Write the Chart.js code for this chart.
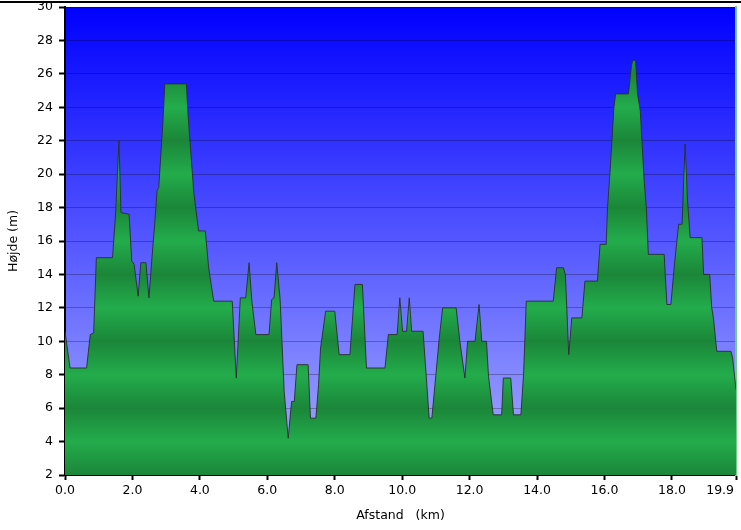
<!DOCTYPE html>
<html lang="da">
<head>
  <meta charset="UTF-8" />
  <title>Højdeprofil</title>
  <script src="https://cdn.jsdelivr.net/npm/chart.js"></script>
  <style>
    body {
      margin: 0;
      background: #fff;
    }
    .wrap {
      position: relative;
      width: 741px;
      height: 530px;
    }
    .topline {
      position: absolute;
      left: 0;
      top: 1px;
      width: 741px;
      height: 2px;
      background: #000;
    }
  </style>
</head>
<body>
  <div class="wrap">
    <canvas id="profileChart" width="741" height="530"></canvas>
    <div class="topline"></div>
  </div>

  <script>
    // afstand (km) og højde (m) aflæst fra profilen
    const distKm = [
      0.00, 0.15, 0.64, 0.75, 0.85, 0.93, 1.41, 1.50, 1.60, 1.66,
      1.90, 1.98, 2.05, 2.17, 2.25, 2.40, 2.49, 2.58, 2.66, 2.73,
      2.78, 2.90, 2.96, 3.60, 3.65, 3.82, 3.96, 4.16, 4.26, 4.41,
      4.96, 5.08, 5.20, 5.36, 5.46, 5.54, 5.66, 6.05, 6.13, 6.20,
      6.28, 6.38, 6.50, 6.62, 6.72, 6.80, 6.88, 7.21, 7.28, 7.44,
      7.52, 7.58, 7.73, 8.00, 8.13, 8.45, 8.60, 8.82, 8.94, 9.49,
      9.59, 9.85, 9.93, 10.01, 10.13, 10.21, 10.28, 10.62, 10.80, 10.88,
      11.00, 11.10, 11.20, 11.60, 11.71, 11.86, 11.94, 12.16, 12.28, 12.36,
      12.50, 12.56, 12.70, 12.95, 13.00, 13.22, 13.30, 13.52, 13.60, 13.68,
      14.48, 14.58, 14.78, 14.84, 14.94, 15.03, 15.33, 15.42, 15.79, 15.87,
      16.05, 16.09, 16.16, 16.22, 16.28, 16.33, 16.71, 16.80, 16.84, 16.92,
      16.98, 17.06, 17.18, 17.24, 17.30, 17.77, 17.85, 17.97, 18.07, 18.20,
      18.30, 18.39, 18.46, 18.54, 18.89, 18.94, 19.12, 19.18, 19.23, 19.33,
      19.75, 19.80, 19.90
    ];
    const heightM = [
      10.6, 8.4, 8.4, 10.4, 10.5, 15.0, 15.0, 17.6, 22.0, 17.7,
      17.6, 14.8, 14.6, 12.7, 14.7, 14.7, 12.6, 15.0, 17.0, 19.0,
      19.2, 23.0, 25.4, 25.4, 23.5, 18.9, 16.6, 16.6, 14.4, 12.4,
      12.4, 7.8, 12.6, 12.6, 14.7, 12.4, 10.4, 10.4, 12.5, 12.6,
      14.7, 12.5, 7.0, 4.2, 6.4, 6.4, 8.6, 8.6, 5.4, 5.4,
      7.4, 9.6, 11.8, 11.8, 9.2, 9.2, 13.4, 13.4, 8.4, 8.4,
      10.4, 10.4, 12.6, 10.6, 10.6, 12.6, 10.6, 10.6, 5.4, 5.4,
      8.0, 10.2, 12.0, 12.0, 10.0, 7.8, 10.0, 10.0, 12.2, 10.0,
      10.0, 7.9, 5.6, 5.6, 7.8, 7.8, 5.6, 5.6, 8.0, 12.4,
      12.4, 14.4, 14.4, 14.0, 9.2, 11.4, 11.4, 13.6, 13.6, 15.8,
      15.8, 18.0, 20.0, 22.0, 24.0, 24.8, 24.8, 26.5, 26.8, 26.8,
      24.8, 23.8, 19.5, 18.0, 15.2, 15.2, 12.2, 12.2, 14.5, 17.0,
      17.0, 21.8, 18.5, 16.2, 16.2, 14.0, 14.0, 12.0, 11.4, 9.4,
      9.4, 9.0, 7.1
    ];
    const xTickValues = [0, 2, 4, 6, 8, 10, 12, 14, 16, 18, 19.9];
    const yMin = 2;
    const yMax = 30;
    const yStep = 2;

    const points = distKm.map((d, i) => ({ x: d, y: heightM[i] }));

    const tickFont = { family: 'DejaVu Sans', size: 12.5 };

    // blå baggrund bag plotområdet
    const plotBackground = {
      id: 'plotBackground',
      beforeDraw(chart) {
        const { ctx, chartArea: a } = chart;
        const g = ctx.createLinearGradient(0, a.top, 0, a.bottom);
        g.addColorStop(0, '#0000ff');
        g.addColorStop(1, '#a8aeff');
        ctx.save();
        ctx.fillStyle = g;
        ctx.fillRect(a.left, a.top, a.right - a.left, a.bottom - a.top);
        ctx.restore();
      }
    };

    // grøn stribet gradient (mørk ved 2, 6, 10 ..., lys ved 4, 8, 12 ...)
    function greenFill(context) {
      const chart = context.chart;
      const a = chart.chartArea;
      if (!a) return '#22a84a';
      const ys = chart.scales.y;
      const h = a.bottom - a.top;
      const g = chart.ctx.createLinearGradient(0, a.top, 0, a.bottom);
      for (let v = yMax; v >= yMin; v -= 2) {
        const p = (ys.getPixelForValue(v) - a.top) / h;
        const dark = ((v - yMin) % 4) === 0;
        g.addColorStop(Math.min(1, Math.max(0, p)), dark ? '#1b8639' : '#23ac4c');
      }
      return g;
    }

    new Chart(document.getElementById('profileChart'), {
      type: 'line',
      data: {
        datasets: [{
          data: points,
          borderColor: 'rgba(40,48,40,0.9)',
          borderWidth: 1,
          backgroundColor: greenFill,
          fill: 'start',
          pointRadius: 0,
          tension: 0
        }]
      },
      plugins: [plotBackground],
      options: {
        responsive: false,
        animation: false,
        layout: { padding: { top: 7, right: 5, left: 0, bottom: 0 } },
        plugins: {
          legend: { display: false },
          tooltip: { enabled: false }
        },
        scales: {
          x: {
            type: 'linear',
            min: 0,
            max: 19.9,
            afterBuildTicks: scale => {
              scale.ticks = xTickValues.map(v => ({ value: v }));
            },
            afterFit: scale => {
              scale.height = 55;
              scale.paddingLeft = 0;
              scale.paddingRight = 0;
            },
            ticks: {
              autoSkip: false,
              maxRotation: 0,
              color: '#000',
              font: tickFont,
              padding: 3,
              // sidste etiket skubbes ind, så den står inden for billedet
              callback: (v, i, all) => {
                const s = Number(v).toFixed(1);
                return i === all.length - 1 ? s + '        ' : s;
              }
            },
            grid: {
              drawOnChartArea: false,
              drawTicks: true,
              tickLength: 5,
              tickColor: '#000',
              tickWidth: 2
            },
            border: { color: '#000', width: 2 },
            title: {
              display: true,
              text: 'Afstand   (km)',
              color: '#000',
              font: tickFont,
              padding: { top: 0, bottom: 7 }
            }
          },
          y: {
            min: yMin,
            max: yMax,
            z: 1,
            afterFit: scale => {
              scale.width = 65;
              scale.paddingTop = 0;
              scale.paddingBottom = 0;
            },
            ticks: {
              stepSize: yStep,
              color: '#000',
              font: tickFont,
              padding: 6
            },
            grid: {
              color: 'rgba(0,0,0,0.28)',
              lineWidth: 1,
              tickLength: 6,
              tickColor: '#000',
              tickWidth: 2
            },
            border: { color: '#000', width: 2 },
            title: {
              display: true,
              text: 'Højde (m)',
              color: '#000',
              font: tickFont,
              padding: { top: 6, bottom: 0 }
            }
          },
          yRight: {
            position: 'right',
            min: yMin,
            max: yMax,
            afterFit: scale => {
              scale.width = 0;
              scale.paddingTop = 0;
              scale.paddingBottom = 0;
            },
            ticks: { display: false },
            grid: { display: false, drawTicks: false },
            border: { color: '#6fcf86', width: 2 }
          }
        }
      }
    });
  </script>
</body>
</html>
